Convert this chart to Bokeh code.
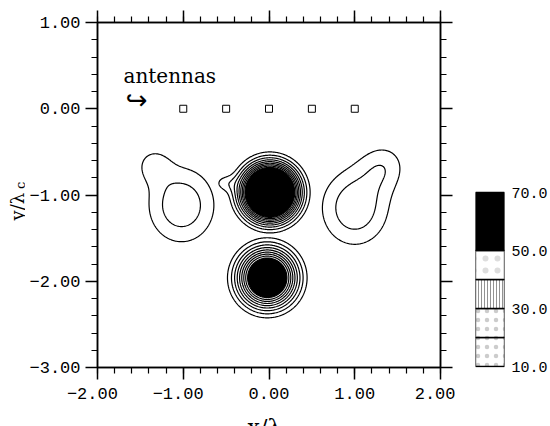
import numpy as np
from bokeh.plotting import figure
from bokeh.layouts import gridplot
from bokeh.models import (LinearAxis, SingleIntervalTicker, FixedTicker, Label,
                          ColumnDataSource)
from bokeh.embed import file_html
from bokeh.resources import INLINE

# ---- axis ticks -------------------------------------------------------------
x_ticks = [-2, -1, 0, 1, 2]
x_tick_labels = ["\u22122.00\u00a0", "\u22121.00\u00a0", "0.00", "1.00", "2.00"]
y_ticks = [-3, -2, -1, 0, 1]
y_tick_labels = ["\u22123.00", "\u22122.00", "\u22121.00", "0.00", "1.00"]

# ---- antenna array ----------------------------------------------------------
antenna_x = [-1.0, -0.5, 0.0, 0.5, 1.0]
antenna_y = [0.0, 0.0, 0.0, 0.0, 0.0]

# ---- field components (group, centre, peak, widths) -------------------------
comp_group = [0, 0, 1, 2, 2, 3, 3]
comp_x = [0.01, -0.54, -0.02, -1.02, -1.36, 1.00, 1.36]
comp_y = [-0.97, -0.86, -1.96, -1.12, -0.64, -1.15, -0.64]
comp_peak = [134.5, 9.0, 84.0, 18.5, 9.0, 18.5, 10.0]
comp_sx = [0.206, 0.10, 0.225, 0.34, 0.15, 0.34, 0.22]
comp_sy = [0.206, 0.08, 0.225, 0.38, 0.15, 0.38, 0.22]

contour_levels = [10, 15, 20, 25, 30, 35, 40, 45, 50]
solid_level = 50

# ---- colour key -------------------------------------------------------------
key_bottom = [10, 20, 30, 40, 50]
key_top = [20, 30, 40, 50, 70]
key_fill = ["white", "white", "white", "white", "black"]
key_hatch = ["dot", "dot", "vertical_line", "dot", " "]
key_hatch_scale = [9, 9, 3, 12, 10]
key_hatch_alpha = [0.3, 0.3, 0.8, 0.2, 0.0]
key_ticks = [10, 30, 50, 70]
key_tick_labels = ["10.0", "30.0", "50.0", "70.0"]

# ---- evaluate the field on a grid -------------------------------------------
xs = np.linspace(-2, 2, 401)
ys = np.linspace(-3, 1, 401)
X, Y = np.meshgrid(xs, ys)
groups = {}
for g, cx, cy, pk, sx, sy in zip(comp_group, comp_x, comp_y, comp_peak, comp_sx, comp_sy):
    part = pk * np.exp(-0.5 * (((X - cx) / sx) ** 2 + ((Y - cy) / sy) ** 2))
    groups[g] = groups.get(g, 0) + part
Z = np.max(np.stack(list(groups.values())), axis=0)

TICK_FONT = "Liberation Mono"
SERIF = "DejaVu Serif"

# panel geometry (pixels)
TOP, BOTTOM_MAIN, H_MAIN, H_XLAB = 22, 39, 406, 20
LEFT_MAIN, RIGHT_MAIN = 72, 15


def bare(fig):
    fig.grid.visible = False
    fig.outline_line_color = None
    fig.background_fill_color = "white"
    fig.border_fill_color = "white"
    return fig


# ---- main plot --------------------------------------------------------------
p = figure(width=430, height=H_MAIN, x_range=(-2, 2), y_range=(-3, 1),
           output_backend="svg", toolbar_location=None,
           x_axis_location=None, y_axis_location=None,
           min_border_left=LEFT_MAIN, min_border_right=RIGHT_MAIN,
           min_border_top=TOP, min_border_bottom=BOTTOM_MAIN)
bare(p)
p.outline_line_color = "black"
p.outline_line_width = 1.5


def make_axis(ticks, labels, show):
    ax = LinearAxis(ticker=SingleIntervalTicker(interval=1, num_minor_ticks=5))
    ax.axis_line_color = "black"
    ax.axis_line_width = 1.5
    ax.major_tick_line_width = 1.5
    ax.minor_tick_line_width = 1.2
    ax.major_tick_out = 12
    ax.major_tick_in = 0
    ax.minor_tick_out = 6
    ax.minor_tick_in = 0
    if show:
        ax.major_label_overrides = {t: s for t, s in zip(ticks, labels)}
        ax.major_label_text_font = TICK_FONT
        ax.major_label_text_font_size = "17px"
        ax.major_label_text_color = "black"
        ax.major_label_standoff = 5
    else:
        ax.major_label_text_font_size = "0px"
        ax.major_label_standoff = 0
    return ax


p.add_layout(make_axis(x_ticks, x_tick_labels, True), "below")
p.add_layout(make_axis(x_ticks, x_tick_labels, False), "above")
p.add_layout(make_axis(y_ticks, y_tick_labels, True), "left")
p.add_layout(make_axis(y_ticks, y_tick_labels, False), "right")

# solid core above the top level, then the contour lines
p.contour(x=xs, y=ys, z=Z, levels=[solid_level, float(Z.max()) + 1.0],
          fill_color="black", line_color=None)
p.contour(x=xs, y=ys, z=Z, levels=contour_levels,
          line_color="black", line_width=1.2)

p.scatter(antenna_x, antenna_y, marker="square", size=7,
          fill_color="white", line_color="black", line_width=1)

p.add_layout(Label(x=-1.697, y=0.375, text="antennas", text_font=SERIF,
                   text_font_size="20px", text_align="left",
                   text_baseline="alphabetic", text_color="black"))
p.add_layout(Label(x=-1.545, y=0.096, text="\u21aa", text_font="DejaVu Sans",
                   text_font_size="26px", text_align="center",
                   text_baseline="middle", text_color="black"))

# ---- y title strip (same vertical scale as the main plot) ---------------------
ylab = figure(width=25, height=H_MAIN, x_range=(0, 25), y_range=(-3, 1),
              output_backend="svg", toolbar_location=None,
              x_axis_location=None, y_axis_location=None,
              min_border_left=0, min_border_right=0,
              min_border_top=TOP, min_border_bottom=BOTTOM_MAIN)
bare(ylab)
ylab.add_layout(Label(x=17, y=-1.296, text="y/\u03bb", text_font=SERIF,
                      text_font_size="18px", text_align="left", angle=np.pi / 2,
                      text_baseline="alphabetic", text_color="black"))
ylab.add_layout(Label(x=20, y=-0.93, text="c", text_font=SERIF,
                      text_font_size="13px", text_align="left", angle=np.pi / 2,
                      text_baseline="alphabetic", text_color="black"))

# ---- x title strip (same horizontal scale as the main plot) -------------------
xlab = figure(width=430, height=H_XLAB, x_range=(-2, 2), y_range=(0, H_XLAB),
              output_backend="svg", toolbar_location=None,
              x_axis_location=None, y_axis_location=None,
              min_border_left=LEFT_MAIN, min_border_right=RIGHT_MAIN,
              min_border_top=0, min_border_bottom=0)
bare(xlab)
xlab.add_layout(Label(x=-0.25, y=2.0, y_offset=-3, text="x/\u03bb",
                      text_font=SERIF, text_font_size="22px", text_align="left",
                      text_baseline="alphabetic", text_color="black"))
xlab.add_layout(Label(x=0.215, y=1.0, y_offset=-4, text="c", text_font=SERIF,
                      text_font_size="15px", text_align="left",
                      text_baseline="alphabetic", text_color="black"))

# ---- colour key panel -------------------------------------------------------
KEY_PX_TOP, KEY_PX_BOTTOM = 192, 366          # pixel rows of 70 and 10
frame_bottom_px = H_MAIN - BOTTOM_MAIN
px_per_unit = (KEY_PX_BOTTOM - KEY_PX_TOP) / (key_top[-1] - key_bottom[0])
key_lo = key_bottom[0] - (frame_bottom_px - KEY_PX_BOTTOM) / px_per_unit
key_hi = key_top[-1] + (KEY_PX_TOP - TOP) / px_per_unit

key = figure(width=95, height=H_MAIN, x_range=(0, 1), y_range=(key_lo, key_hi),
             output_backend="svg", toolbar_location=None,
             x_axis_location=None, y_axis_location=None,
             min_border_left=20, min_border_right=40,
             min_border_top=TOP, min_border_bottom=BOTTOM_MAIN)
bare(key)
src = ColumnDataSource(dict(bottom=key_bottom, top=key_top, fill=key_fill,
                            hatch=key_hatch, hscale=key_hatch_scale,
                            halpha=key_hatch_alpha))
key.quad(left=0, right=1, bottom="bottom", top="top", source=src,
         fill_color="fill", hatch_pattern="hatch", hatch_scale="hscale",
         hatch_alpha="halpha", hatch_color="#555555", hatch_weight=0.8,
         line_color="black", line_width=1.3)
kax = LinearAxis(ticker=FixedTicker(ticks=key_ticks))
kax.major_label_overrides = {t: s for t, s in zip(key_ticks, key_tick_labels)}
kax.axis_line_color = None
kax.major_tick_line_color = None
kax.minor_tick_line_color = None
kax.major_tick_out = 0
kax.major_tick_in = 0
kax.major_label_standoff = 7
kax.major_label_text_font = TICK_FONT
kax.major_label_text_font_size = "15px"
kax.major_label_text_color = "black"
key.add_layout(kax, "right")

layout = gridplot([[ylab, p, key], [None, xlab, None]], toolbar_location=None)
open("out.html", "w").write(file_html(layout, INLINE))
